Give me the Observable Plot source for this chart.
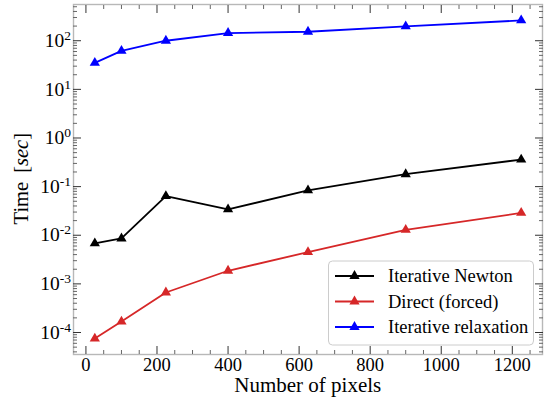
<!DOCTYPE html>
<html><head><meta charset="utf-8">
<script src="https://cdn.jsdelivr.net/npm/d3@7"></script>
<script src="https://cdn.jsdelivr.net/npm/@observablehq/plot@0.6"></script>
<style>
body{margin:0;background:#fff}
#chart{position:relative;width:544px;height:402px}
</style>
</head><body><div id="chart"></div>
<script>
// ---- data ----
const pixels = [25, 100, 225, 400, 625, 900, 1225];
const newtonTime = [0.0068, 0.0086, 0.064, 0.034, 0.084, 0.18, 0.36];
const directTime = [7.5e-5, 1.68e-4, 6.65e-4, 1.86e-3, 4.5e-3, 0.0129, 0.0288];
const relaxTime = [35, 62, 100, 144, 153, 197, 262];
const seriesNames = ["Iterative Newton", "Direct (forced)", "Iterative relaxation"];
const seriesColors = ["#000000", "#d62728", "#0000ff"];
const xMajorTicks = [0, 200, 400, 600, 800, 1000, 1200];
const yMajorExponents = [-4, -3, -2, -1, 0, 1, 2];

const xDomain = [-35, 1285];
const yDomain = [3.53e-5, 556];

const rows = [];
[newtonTime, directTime, relaxTime].forEach((vals, s) =>
  vals.forEach((v, i) => rows.push({series: seriesNames[s], x: pixels[i], t: v})));

const xMinor = d3.range(50, 1300, 50).filter(v => v % 200 !== 0 && v >= xDomain[0] && v <= xDomain[1]);
const yMajor = yMajorExponents.map(e => 10 ** e);
const yMinor = [];
for (let e = -5; e <= 2; e++) for (let m = 2; m <= 9; m++) {
  const v = m * 10 ** e;
  if (v >= yDomain[0] && v <= yDomain[1]) yMinor.push(v);
}

const tickColor = "#333";
const minorColor = "#666";
const blank = () => "";

const chart = Plot.plot({
  width: 544,
  height: 402,
  marginLeft: 73,
  marginRight: 2,
  marginTop: 4,
  marginBottom: 48,
  style: {fontFamily: "'Liberation Serif', serif", fontSize: "18px", background: "white", color: "black"},
  x: {domain: xDomain},
  y: {type: "log", domain: yDomain},
  color: {domain: seriesNames, range: seriesColors},
  marks: [
    Plot.line(rows, {x: "x", y: "t", z: "series", stroke: "series", strokeWidth: 1.8}),
    Plot.dot(rows, {x: "x", y: "t", fill: "series", symbol: "triangle", r: 3.8, stroke: "none"}),
    Plot.frame({stroke: "#b8b8b8", strokeWidth: 1.4}),
    // x axes
    Plot.axisX({anchor: "bottom", ticks: xMajorTicks, tickSize: -8, tickPadding: 11, tickFormat: d => String(d), label: null, stroke: tickColor, fontSize: 18.5}),
    Plot.axisX({anchor: "bottom", ticks: xMinor, tickSize: -4, tickFormat: blank, label: null, stroke: minorColor}),
    Plot.axisX({anchor: "top", ticks: xMajorTicks, tickSize: -8, tickFormat: blank, label: null, stroke: tickColor}),
    Plot.axisX({anchor: "top", ticks: xMinor, tickSize: -4, tickFormat: blank, label: null, stroke: minorColor}),
    // y axes
    Plot.axisY({anchor: "left", ticks: yMajor, tickSize: -8, tickPadding: 10.5, tickFormat: d => String(Math.round(Math.log10(d))), label: null, stroke: tickColor, fontSize: 19.5}),
    Plot.axisY({anchor: "left", ticks: yMinor, tickSize: -4, tickFormat: blank, label: null, stroke: minorColor}),
    Plot.axisY({anchor: "right", ticks: yMajor, tickSize: -8, tickFormat: blank, label: null, stroke: tickColor}),
    Plot.axisY({anchor: "right", ticks: yMinor, tickSize: -4, tickFormat: blank, label: null, stroke: minorColor})
  ]
});
document.getElementById("chart").appendChild(chart);

const svg = d3.select(chart);

// superscript tick labels 10^n
svg.selectAll('g[aria-label="y-axis tick label"] text').each(function() {
  const exp = this.textContent;
  if (!exp) return;
  const t = d3.select(this);
  t.text("");
  t.append("tspan").text("10");
  t.append("tspan").attr("dy", "-7").attr("font-size", "13.5").text(exp);
});

// axis labels
svg.append("text")
  .attr("x", 307.8).attr("y", 392)
  .attr("text-anchor", "middle")
  .attr("font-size", 21)
  .attr("fill", "black")
  .text("Number of pixels");

const yl = svg.append("text")
  .attr("transform", "translate(28,178.7) rotate(-90)")
  .attr("text-anchor", "middle")
  .attr("font-size", 20.5)
  .attr("fill", "black");
yl.append("tspan").text("Time");
yl.append("tspan").attr("dx", 9).text("[");
yl.append("tspan").attr("font-style", "italic").text("sec");
yl.append("tspan").text("]");

// legend
const lg = svg.append("g").attr("text-anchor", "start");
lg.append("rect")
  .attr("x", 328.5).attr("y", 261).attr("width", 205).attr("height", 84)
  .attr("rx", 4).attr("fill", "white").attr("fill-opacity", 0.85)
  .attr("stroke", "#cccccc").attr("stroke-width", 1);
const rowY = [276, 301.5, 327];
const tri = d3.symbol(d3.symbolTriangle, Math.PI * 3.8 * 3.8)();
seriesNames.forEach((name, i) => {
  const g = lg.append("g").attr("transform", `translate(0,${rowY[i]})`);
  g.append("line").attr("x1", 335).attr("x2", 374).attr("y1", 0).attr("y2", 0)
    .attr("stroke", seriesColors[i]).attr("stroke-width", 1.8);
  g.append("path").attr("d", tri).attr("transform", "translate(354.5,0)").attr("fill", seriesColors[i]);
  g.append("text").attr("x", 388).attr("y", 0).attr("dy", "0.35em")
    .attr("text-anchor", "start")
    .attr("font-size", 18.5).attr("fill", "black").text(name);
});
</script>
</body></html>
